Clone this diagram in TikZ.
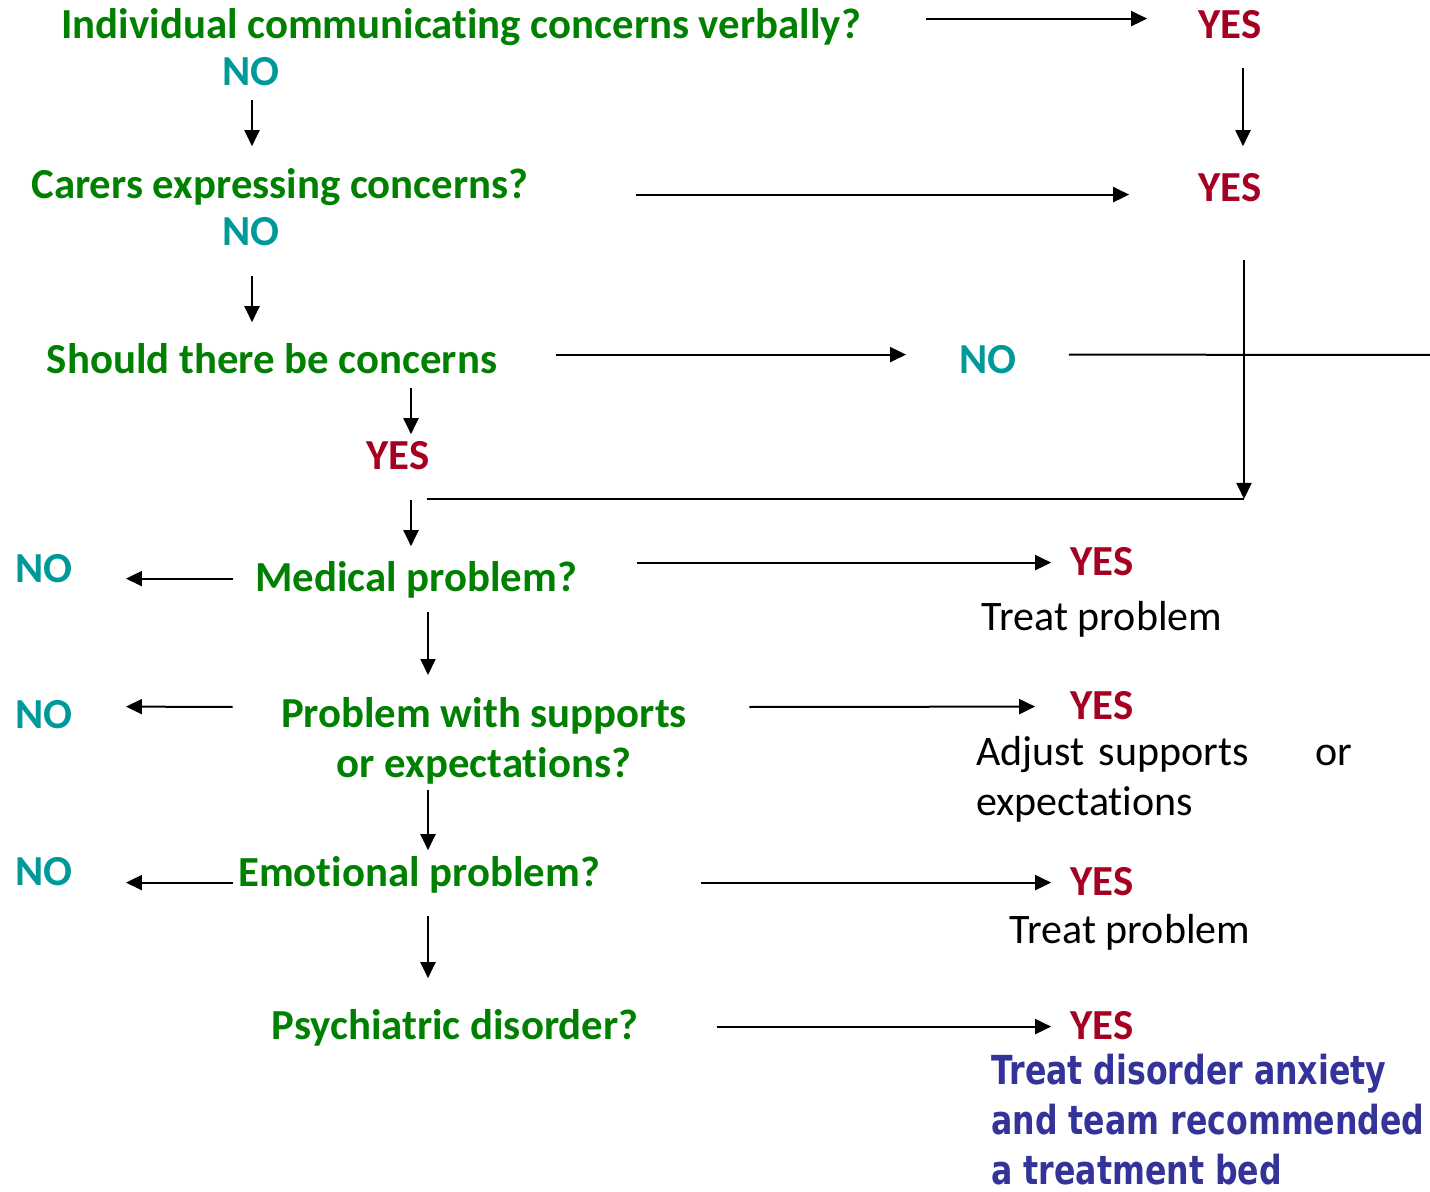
\documentclass[tikz,border=0pt]{standalone}
\usepackage{fontspec}
\setmainfont{Carlito}[RawFeature={-liga;-clig;-calt;-dlig}]
\newfontfamily\bluefont[FakeStretch=0.79]{DejaVu Sans}
\usetikzlibrary{arrows.meta}
\definecolor{qgreen}{RGB}{0,128,0}
\definecolor{yesred}{RGB}{165,0,33}
\definecolor{noteal}{RGB}{0,153,153}
\definecolor{actblue}{RGB}{51,51,153}
\tikzset{
  q/.style={inner sep=0pt, text height=14pt, text depth=0pt, anchor=south,
    font=\fontsize{21.4}{25}\selectfont\bfseries, text=qgreen},
  yes/.style={q, text=yesred},
  no/.style={q, text=noteal},
  act/.style={inner sep=0pt, text height=14pt, text depth=0pt, anchor=south,
    font=\fontsize{21}{25}\selectfont},
  arr/.style={line width=1pt, -{Triangle[length=8pt,width=7.5pt]}},
  ln/.style={line width=1pt},
}
\begin{document}
\begin{tikzpicture}[x=0.5pt, y=-0.5pt]
  \useasboundingbox (0,0) rectangle (1430,1192);
  % questions down the left
  \node[q] (q1) at (461,39)  {Individual communicating concerns verbally?};
  \node[no] (n1) at (251,86) {NO};
  \node[q] (q2) at (280,199) {Carers expressing concerns?};
  \node[no] (n2) at (251,246) {NO};
  \node[q] (q3) at (272,374) {Should there be concerns};
  \node[yes] (y3) at (398,470) {YES};
  \node[q] (q4) at (416,592) {Medical problem?};
  \node[q, text height=, anchor=north, align=center] (q5) at (484,697)
       {Problem with supports\\or expectations?};
  \node[q] (q6) at (419,887) {Emotional problem?};
  \node[q] (q7) at (455,1040) {Psychiatric disorder?};
  % answers
  \node[yes] (y1) at (1230,39)  {YES};
  \node[yes] (y2) at (1230,202) {YES};
  \node[no]  (n3) at (988,374)  {NO};
  \node[no]  (nA) at (44,583)   {NO};
  \node[no]  (nB) at (44,729)   {NO};
  \node[no]  (nC) at (44,886)   {NO};
  \node[yes] (yA) at (1102,576) {YES};
  \node[yes] (yB) at (1102,720) {YES};
  \node[yes] (yC) at (1102,896) {YES};
  \node[yes] (yD) at (1102,1040) {YES};
  \node[act] (tA) at (1102,631) {Treat problem};
  \node[act, text height=, anchor=north west, align=left, text width=188pt]
       (tB) at (976,736) {Adjust supports \hfill or\\expectations};
  \node[act] (tC) at (1130,944) {Treat problem};
  \node[inner sep=0pt, anchor=north west, align=left, text=actblue,
       font=\bluefont\fontsize{20}{25}\selectfont\bfseries] (tD) at (991,1054)
       {Treat disorder anxiety\\and team recommended\\a treatment bed};
  \coordinate (re) at (1430,355);
  \coordinate (corner) at (1244,499);
  \coordinate (lend) at (427,499);
  % connectors
  \draw[arr] ([shift={(65,-6)}]q1.east) -- ([shift={(-51,-6)}]y1.west);
  \draw[arr] ([shift={(13,29)}]y1.south) -- ([shift={(13,-27)}]y2.north);
  \draw[arr] ([shift={(107,10)}]q2.east) -- ([shift={(-69,7)}]y2.west);
  \draw[arr] ([shift={(1,14)}]n1.south) -- ([shift={(-28,-24)}]q2.north);
  \draw[arr] ([shift={(1,30)}]n2.south) -- ([shift={(-20,-23)}]q3.north);
  \draw[arr] ([shift={(58,-5)}]q3.east) -- ([shift={(-53,-5)}]n3.west);
  \draw[ln] ([shift={(52,-5)}]n3.east) -- (re);
  \draw[arr] ([shift={(14,58)}]y2.south) -- (corner);
  \draw[ln] (corner) -- (lend);
  \draw[arr] ([shift={(139,14)}]q3.south) -- ([shift={(13,-7)}]y3.north);
  \draw[arr] ([shift={(13,30)}]y3.south) -- ([shift={(-5,-17)}]q4.north);
  \draw[arr] ([shift={(-22,1)}]q4.west) -- ([shift={(53,10)}]nA.east);
  \draw[arr] ([shift={(60,-15)}]q4.east) -- ([shift={(-19,1)}]yA.west);
  \draw[arr] ([shift={(12,20)}]q4.south) -- ([shift={(-56,-22)}]q5.north);
  \draw[arr] ([shift={(-48,10)}]q5.north west) -- ([shift={(53,-8)}]nB.east);
  \draw[arr] ([shift={(62,10)}]q5.north east) -- ([shift={(-35,1)}]yB.west);
  \draw[arr] ([shift={(-56,12)}]q5.south) -- ([shift={(9,-8)}]q6.north);
  \draw[arr] ([shift={(-5,10)}]q6.west) -- ([shift={(53,11)}]nC.east);
  \draw[arr] ([shift={(101,10)}]q6.east) -- ([shift={(-19,1)}]yC.west);
  \draw[arr] ([shift={(9,29)}]q6.south) -- ([shift={(-27,-33)}]q7.north);
  \draw[arr] ([shift={(78,1)}]q7.east) -- ([shift={(-19,1)}]yD.west);
\end{tikzpicture}
\end{document}
